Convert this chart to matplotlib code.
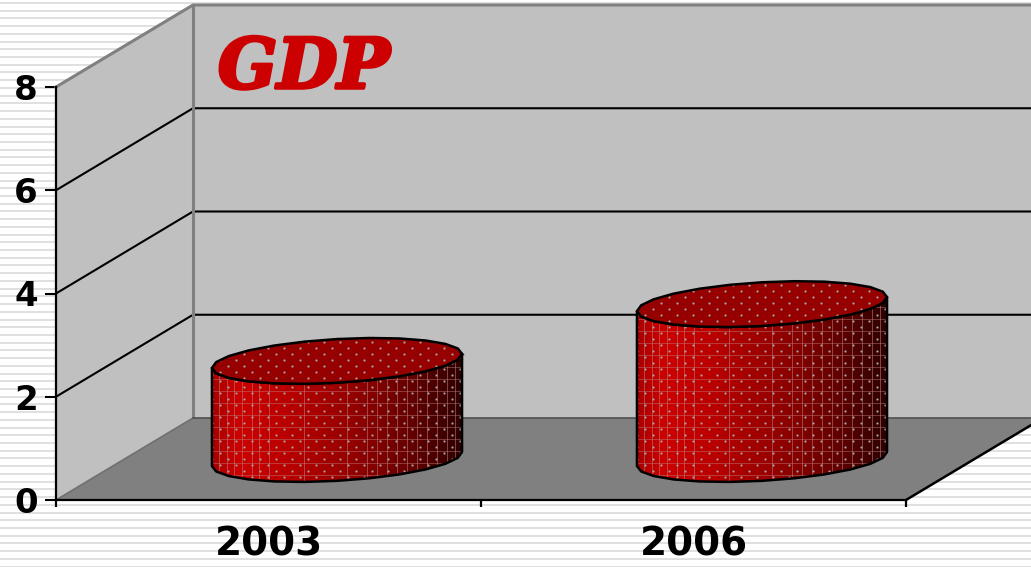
import numpy as np
from matplotlib import pyplot as plt
from matplotlib.colors import LinearSegmentedColormap
from matplotlib.patches import Polygon
import matplotlib.patheffects as pe

years = ["2003", "2006"]
gdp = [1.9, 3.0]
y_ticks = [0, 2, 4, 6, 8]

# 3D look: how far one unit of depth moves a point, in data units
depth_x = 137 / 425
depth_y = 82 / 51.625
radius = 0.28

side_cmap = LinearSegmentedColormap.from_list("side", [
    (0.0, "#a80000"), (0.1, "#cc0000"), (0.28, "#bc0000"),
    (0.55, "#960000"), (0.78, "#680000"), (1.0, "#2c0000")])


def project(x, y, d):
    return x + d * depth_x, y + d * depth_y


def rim(center, level, t):
    x, y = project(center + radius * np.cos(t), level, 0.5 + radius * np.sin(t))
    return np.column_stack([x, y])


def add_dots(ax, clip, xmin, xmax, ymin, ymax, zorder):
    xs, ys = [], []
    rows = np.arange(ymin, ymax, 6 / 51.625)
    for i, row in enumerate(rows):
        start = xmin + (i % 2) * 8 / 425
        for col in np.arange(start, xmax, 16 / 425):
            xs.append(col)
            ys.append(row)
    dots = ax.scatter(xs, ys, s=2.6, color="#a8a0a0", linewidths=0, zorder=zorder)
    dots.set_clip_path(clip)


def draw_cylinder(ax, center, value):
    t0 = np.arctan2(radius * depth_x, radius)
    front = np.linspace(t0 + np.pi, t0 + 2 * np.pi, 13)
    ring = np.linspace(t0, t0 + 2 * np.pi, 25)
    top_front = rim(center, value, front)
    base_front = rim(center, 0, front)
    side = Polygon(np.vstack([top_front, base_front[::-1]]), closed=True, fc="none",
                   ec="none", zorder=4)
    ax.add_patch(side)
    xmin = top_front[:, 0].min()
    xmax = top_front[:, 0].max()
    ymax = top_front[:, 1].max() + 0.5
    img = ax.imshow(np.linspace(0, 1, 256).reshape(1, -1), cmap=side_cmap, aspect="auto",
                    extent=(xmin, xmax, 0, ymax), zorder=4)
    img.set_clip_path(side)

    # fabric grid on the side, denser towards both edges
    w = xmax - xmin
    fracs = [0.03, 0.06, 0.09, 0.12, 0.16, 0.19, 0.23, 0.37, 0.54, 0.62, 0.66,
             0.7, 0.74, 0.78, 0.82, 0.86, 0.9, 0.94, 0.97]
    vl = ax.vlines([xmin + f * w for f in fracs], 0, ymax, color="#c08080", lw=0.7,
                   alpha=0.55, zorder=5)
    vl.set_clip_path(side)
    hl = ax.hlines(np.arange(0.25, ymax, 12 / 51.625), xmin, xmax, color="#c08080", lw=0.7,
                   alpha=0.45, zorder=5)
    hl.set_clip_path(side)
    add_dots(ax, side, xmin, xmax, 0.1, ymax, 6)

    outline = Polygon(np.vstack([top_front, base_front[::-1]]), closed=True, fc="none",
                      ec="black", lw=1.8, zorder=7, joinstyle="round")
    ax.add_patch(outline)
    top = Polygon(rim(center, value, ring), closed=True, fc="#960000", ec="none", zorder=8)
    ax.add_patch(top)
    add_dots(ax, top, xmin, xmax, value, value + 1.6, 9)
    ax.add_patch(Polygon(rim(center, value, ring), closed=True, fc="none", ec="black",
                         lw=1.8, zorder=10))


fig = plt.figure(figsize=(10.31, 5.67), dpi=100, facecolor="white")

# striped page behind the chart
bg = fig.add_axes([0, 0, 1, 1], zorder=-1)
bg.set_xlim(0, 1031)
bg.set_ylim(567, 0)
bg.axis("off")
bg.hlines(np.arange(3, 567, 7.72), 0, 1031, color="#e0e0e0", lw=1.4)

ax = fig.add_axes([56 / 1031, 67 / 567, 850 / 1031, 413 / 567])
ax.patch.set_visible(False)
ax.set_xlim(0, 2)
ax.set_ylim(0, 8)

# walls and floor
back_l = project(0, 0, 1)
back_t = project(0, 8, 1)
far_x = project(2, 0, 1)[0]
ax.add_patch(Polygon([(0, 0), back_l, back_t, (0, 8)], fc="#c0c0c0", ec="none", zorder=1,
                     clip_on=False))
ax.add_patch(Polygon([back_l, (far_x, back_l[1]), (far_x, back_t[1]), back_t], fc="#c0c0c0",
                     ec="none", zorder=1, clip_on=False))
ax.add_patch(Polygon([(0, 0), (2, 0), (far_x, back_l[1]), back_l], fc="#808080", ec="none",
                     zorder=1, clip_on=False))

# grid lines on the walls
for tick in y_ticks[1:-1]:
    p = project(0, tick, 1)
    ax.plot([0, p[0], far_x], [tick, p[1], p[1]], color="black", lw=1.5, zorder=2,
            clip_on=False)
ax.plot([0, back_t[0], far_x], [8, back_t[1], back_t[1]], color="#808080", lw=2.2, zorder=2,
        clip_on=False)
ax.plot([back_t[0], back_l[0]], [back_t[1], back_l[1]], color="#808080", lw=2.2, zorder=2,
        clip_on=False)
ax.plot([0, back_l[0]], [0, back_l[1]], color="#707070", lw=1.2, zorder=2, clip_on=False)
ax.plot([back_l[0], far_x], [back_l[1], back_l[1]], color="#505050", lw=1.2, zorder=2,
        clip_on=False)
ax.plot([2, far_x], [0, back_l[1]], color="black", lw=1.8, zorder=3, clip_on=False)

for i, value in enumerate(gdp):
    draw_cylinder(ax, i + 0.5, value)
ax.set_xlim(0, 2)
ax.set_ylim(0, 8)

ax.text(0.381, 7.98, "GDP", color="#cc0000", fontsize=50, family="DejaVu Serif",
        weight="bold", style="italic", va="baseline", ha="left", zorder=11,
        path_effects=[pe.withStroke(linewidth=2.5, foreground="#cc0000")])

for side in ["top", "right"]:
    ax.spines[side].set_visible(False)
for side in ["left", "bottom"]:
    ax.spines[side].set_linewidth(1.6)
    ax.spines[side].set_zorder(3)

ax.set_yticks(y_ticks)
ax.set_yticklabels([str(v) for v in y_ticks], fontsize=24.5, weight="bold", color="black")
ax.tick_params(axis="y", length=8, width=1.5, pad=5)
ax.set_xticks([0, 1, 2])
ax.set_xticklabels([])
ax.set_xticks([0.5, 1.5], labels=years, minor=True, fontsize=28, weight="bold")
ax.tick_params(axis="x", which="major", length=5, width=1.6)
ax.tick_params(axis="x", which="minor", length=0, pad=18)

fig.savefig("out.png", dpi=100)
